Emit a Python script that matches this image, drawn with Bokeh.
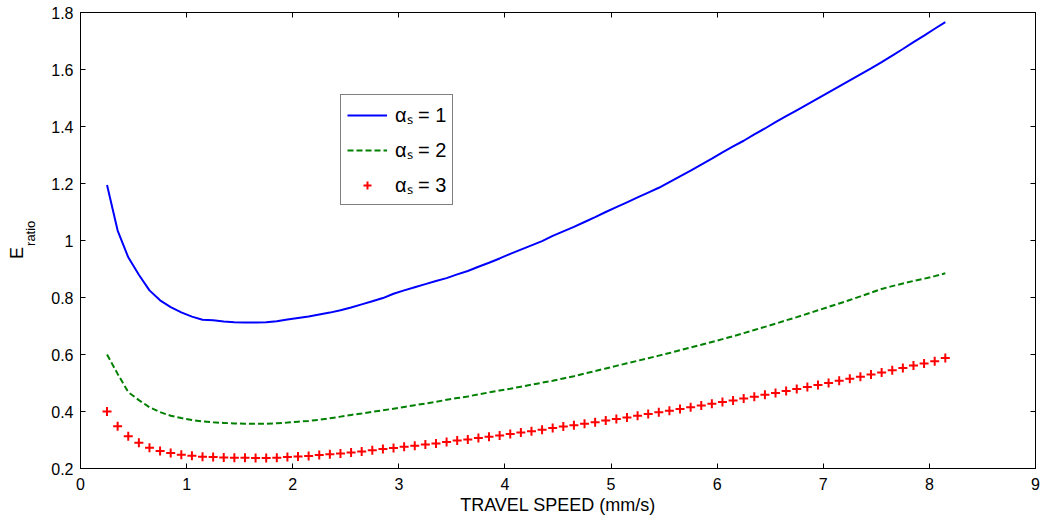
from bokeh.plotting import figure
from bokeh.models import (LinearAxis, FixedTicker, CustomJSTickFormatter, Legend,
                          LegendItem, Range1d)
from bokeh.embed import file_html
from bokeh.resources import INLINE

# ---------------- data ----------------
speed = [0.25, 0.35, 0.45, 0.55, 0.65, 0.75, 0.85, 0.95, 1.05, 1.15,
         1.25, 1.35, 1.45, 1.55, 1.65, 1.75, 1.85, 1.95, 2.05, 2.15,
         2.25, 2.35, 2.45, 2.55, 2.65, 2.75, 2.85, 2.95, 3.05, 3.15,
         3.25, 3.35, 3.45, 3.55, 3.65, 3.75, 3.85, 3.95, 4.05, 4.15,
         4.25, 4.35, 4.45, 4.55, 4.65, 4.75, 4.85, 4.95, 5.05, 5.15,
         5.25, 5.35, 5.45, 5.55, 5.65, 5.75, 5.85, 5.95, 6.05, 6.15,
         6.25, 6.35, 6.45, 6.55, 6.65, 6.75, 6.85, 6.95, 7.05, 7.15,
         7.25, 7.35, 7.45, 7.55, 7.65, 7.75, 7.85, 7.95, 8.05, 8.15]

e_alpha1 = [1.195, 1.035, 0.941, 0.880, 0.825, 0.790, 0.766, 0.748, 0.733, 0.722,
            0.720, 0.716, 0.713, 0.712, 0.712, 0.713, 0.717, 0.723, 0.728, 0.733,
            0.740, 0.747, 0.755, 0.765, 0.776, 0.787, 0.798, 0.813, 0.825, 0.836,
            0.847, 0.858, 0.868, 0.881, 0.893, 0.908, 0.922, 0.937, 0.953, 0.968,
            0.983, 0.998, 1.016, 1.032, 1.048, 1.065, 1.082, 1.100, 1.117, 1.134,
            1.151, 1.168, 1.185, 1.205, 1.225, 1.245, 1.266, 1.287, 1.309, 1.330,
            1.350, 1.372, 1.393, 1.415, 1.436, 1.457, 1.478, 1.499, 1.520, 1.541,
            1.562, 1.583, 1.604, 1.626, 1.649, 1.672, 1.696, 1.719, 1.743, 1.766]

e_alpha2 = [0.600, 0.532, 0.468, 0.440, 0.415, 0.398, 0.385, 0.377, 0.370, 0.365,
            0.362, 0.360, 0.358, 0.357, 0.357, 0.357, 0.359, 0.361, 0.364, 0.367,
            0.371, 0.376, 0.382, 0.388, 0.393, 0.399, 0.404, 0.410, 0.416, 0.422,
            0.428, 0.434, 0.441, 0.447, 0.453, 0.460, 0.467, 0.474, 0.480, 0.487,
            0.494, 0.501, 0.508, 0.516, 0.524, 0.533, 0.542, 0.551, 0.560, 0.569,
            0.578, 0.587, 0.596, 0.605, 0.615, 0.625, 0.634, 0.644, 0.654, 0.664,
            0.675, 0.686, 0.697, 0.708, 0.720, 0.731, 0.743, 0.755, 0.767, 0.779,
            0.791, 0.804, 0.817, 0.830, 0.840, 0.849, 0.858, 0.866, 0.875, 0.885]

e_alpha3 = [0.400, 0.348, 0.313, 0.290, 0.273, 0.261, 0.254, 0.248, 0.245, 0.241,
            0.240, 0.239, 0.238, 0.238, 0.237, 0.237, 0.238, 0.240, 0.242, 0.244,
            0.247, 0.250, 0.253, 0.256, 0.260, 0.264, 0.268, 0.272, 0.276, 0.280,
            0.284, 0.288, 0.293, 0.298, 0.302, 0.307, 0.311, 0.316, 0.321, 0.326,
            0.331, 0.336, 0.342, 0.347, 0.352, 0.357, 0.362, 0.368, 0.374, 0.379,
            0.385, 0.391, 0.397, 0.403, 0.409, 0.415, 0.421, 0.427, 0.433, 0.439,
            0.446, 0.452, 0.459, 0.465, 0.472, 0.479, 0.486, 0.493, 0.500, 0.508,
            0.515, 0.522, 0.530, 0.537, 0.545, 0.553, 0.561, 0.568, 0.576, 0.588]

x_ticks = [0, 1, 2, 3, 4, 5, 6, 7, 8, 9]
y_ticks = [0.2, 0.4, 0.6, 0.8, 1.0, 1.2, 1.4, 1.6, 1.8]
legend_labels = ["\u03b1\u209b = 1", "\u03b1\u209b = 2", "\u03b1\u209b = 3"]
x_title = "TRAVEL SPEED (mm/s)"
y_title_main = "E"
y_title_sub = "ratio"

FONT = "Liberation Sans"
NBSP = "\u00a0"

# ---------------- figure ----------------
p = figure(frame_width=955, frame_height=456,
           x_range=Range1d(0, 9), y_range=Range1d(0.2, 1.8),
           output_backend="svg", toolbar_location=None,
           min_border_left=80, min_border_right=6,
           min_border_top=12, min_border_bottom=48)

p.background_fill_color = "white"
p.border_fill_color = "white"
p.outline_line_color = "black"
p.outline_line_width = 1
p.xgrid.visible = False
p.ygrid.visible = False

yfmt = CustomJSTickFormatter(code="return Number(tick.toFixed(1)).toString();")
xfmt = CustomJSTickFormatter(code="return Number(tick.toFixed(0)).toString();")
blank = CustomJSTickFormatter(code="return '';")

for ax in p.xaxis:
    ax.ticker = FixedTicker(ticks=x_ticks)
    ax.formatter = xfmt
for ax in p.yaxis:
    ax.ticker = FixedTicker(ticks=y_ticks)
    ax.formatter = yfmt

for ax in list(p.xaxis) + list(p.yaxis):
    ax.major_tick_in = 5
    ax.major_tick_out = 0
    ax.minor_tick_line_color = None
    ax.axis_line_color = "black"
    ax.major_tick_line_color = "black"
    ax.major_label_text_font = FONT
    ax.major_label_text_font_size = "16px"
    ax.major_label_text_color = "black"

p.xaxis.major_label_standoff = 9
p.yaxis.major_label_standoff = 7
p.xaxis.axis_label = x_title
p.xaxis.axis_label_text_font = FONT
p.xaxis.axis_label_text_font_size = "18px"
p.xaxis.axis_label_text_font_style = "normal"
p.xaxis.axis_label_text_color = "black"
p.xaxis.axis_label_standoff = 2

# y title: subscript "ratio" on the main y axis, "E" on an outer, bare axis
# (non-breaking spaces only nudge each part along the axis)
p.yaxis.axis_label = NBSP * 4 + y_title_sub
p.yaxis.axis_label_text_font = FONT
p.yaxis.axis_label_text_font_size = "13px"
p.yaxis.axis_label_text_font_style = "normal"
p.yaxis.axis_label_text_color = "black"
p.yaxis.axis_label_standoff = 10

e_axis = LinearAxis(ticker=FixedTicker(ticks=[]), formatter=blank,
                    major_label_standoff=0, major_tick_in=0, major_tick_out=0,
                    minor_tick_line_color=None, axis_line_color=None,
                    axis_label=y_title_main + NBSP * 5, axis_label_text_font=FONT,
                    axis_label_text_font_size="18px",
                    axis_label_text_font_style="normal",
                    axis_label_text_color="black",
                    axis_label_standoff=-6)
p.add_layout(e_axis, "left")

top = LinearAxis(ticker=FixedTicker(ticks=x_ticks), formatter=blank,
                 major_label_standoff=0, major_tick_in=5, major_tick_out=0,
                 minor_tick_line_color=None, axis_line_color="black")
right = LinearAxis(ticker=FixedTicker(ticks=y_ticks), formatter=blank,
                   major_label_standoff=0, major_tick_in=5, major_tick_out=0,
                   minor_tick_line_color=None, axis_line_color="black")
p.add_layout(top, "above")
p.add_layout(right, "right")

# ---------------- series ----------------
r1 = p.line(speed, e_alpha1, line_color="#0000ff", line_width=2)
r2 = p.line(speed, e_alpha2, line_color="#008000", line_width=2, line_dash="6 3")
r3 = p.scatter(speed, e_alpha3, marker="cross", size=9,
               line_color="#ff0000", line_width=2)

legend = Legend(items=[LegendItem(label=legend_labels[0], renderers=[r1]),
                       LegendItem(label=legend_labels[1], renderers=[r2]),
                       LegendItem(label=legend_labels[2], renderers=[r3])],
                location=(260, 263), orientation="vertical",
                border_line_color="black", border_line_width=1,
                background_fill_color="white", background_fill_alpha=1,
                padding=6, spacing=8, margin=0,
                glyph_width=40, glyph_height=20, label_height=20,
                label_standoff=8,
                label_text_font=FONT, label_text_font_size="20px",
                label_text_color="black")
p.add_layout(legend)

open("out.html", "w").write(file_html(p, INLINE))
